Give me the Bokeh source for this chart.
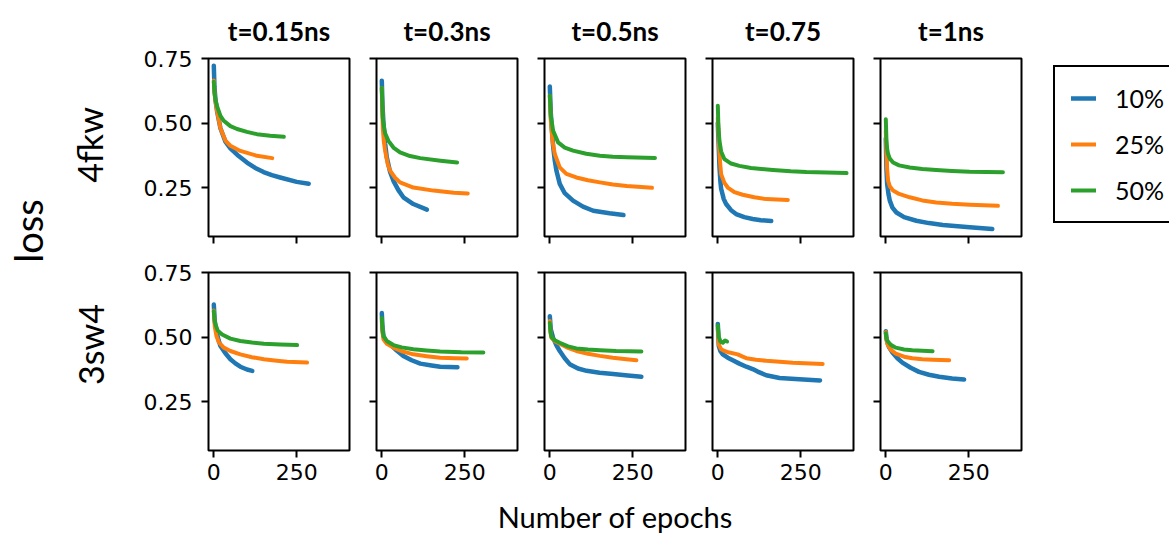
import math
from bokeh.plotting import figure
from bokeh.layouts import row, column
from bokeh.models import FixedTicker, Range1d, Legend, LegendItem, PrintfTickFormatter
from bokeh.embed import file_html
from bokeh.resources import INLINE
from bokeh.core.properties import value

# ---------------- labels / categories ----------------
TIMES = ["t=0.15ns", "t=0.3ns", "t=0.5ns", "t=0.75", "t=1ns"]
PROTEINS = ["4fkw", "3sw4"]
SERIES = ["10%", "25%", "50%"]
COLORS = ["#1f77b4", "#ff7f0e", "#2ca02c"]
X_TICKS = [0, 250]
Y_TICKS = [0.25, 0.5, 0.75]
X_LABEL = "Number of epochs"
Y_LABEL = "loss"

# ---------------- data (epoch, loss) ----------------
# 4fkw, t=0.15ns
fkw_015_10_ep = [0, 2, 5, 10, 20, 35, 50, 75, 100, 125, 150, 175, 200, 250, 286]
fkw_015_10_loss = [0.722, 0.64, 0.59, 0.545, 0.48, 0.428, 0.402, 0.372, 0.347, 0.326, 0.310, 0.298, 0.289, 0.272, 0.265]
fkw_015_25_ep = [0, 2, 5, 10, 20, 35, 50, 80, 130, 176]
fkw_015_25_loss = [0.665, 0.62, 0.585, 0.545, 0.48, 0.432, 0.412, 0.392, 0.373, 0.364]
fkw_015_50_ep = [0, 2, 5, 10, 20, 30, 50, 70, 100, 130, 170, 211]
fkw_015_50_loss = [0.66, 0.62, 0.59, 0.565, 0.528, 0.509, 0.488, 0.477, 0.466, 0.457, 0.451, 0.447]

# 4fkw, t=0.3ns
fkw_03_10_ep = [0, 2, 5, 10, 15, 25, 35, 50, 65, 95, 136]
fkw_03_10_loss = [0.664, 0.57, 0.50, 0.42, 0.367, 0.31, 0.276, 0.24, 0.212, 0.186, 0.164]
fkw_03_25_ep = [0, 3, 6, 10, 18, 25, 40, 55, 95, 156, 217, 259]
fkw_03_25_loss = [0.636, 0.48, 0.43, 0.393, 0.34, 0.315, 0.288, 0.270, 0.250, 0.238, 0.230, 0.227]
fkw_03_50_ep = [0, 3, 5, 10, 20, 35, 55, 85, 116, 177, 227]
fkw_03_50_loss = [0.636, 0.52, 0.496, 0.46, 0.431, 0.405, 0.386, 0.372, 0.364, 0.354, 0.347]

# 4fkw, t=0.5ns
fkw_05_10_ep = [0, 3, 5, 10, 15, 20, 30, 45, 70, 100, 131, 180, 222]
fkw_05_10_loss = [0.642, 0.54, 0.496, 0.41, 0.354, 0.315, 0.264, 0.228, 0.199, 0.176, 0.160, 0.150, 0.143]
fkw_05_25_ep = [0, 3, 8, 15, 30, 50, 80, 115, 151, 190, 232, 308]
fkw_05_25_loss = [0.606, 0.51, 0.431, 0.38, 0.328, 0.303, 0.289, 0.278, 0.270, 0.262, 0.256, 0.249]
fkw_05_50_ep = [0, 3, 10, 25, 45, 70, 110, 151, 190, 232, 317]
fkw_05_50_loss = [0.606, 0.53, 0.470, 0.425, 0.405, 0.393, 0.381, 0.373, 0.369, 0.367, 0.365]

# 4fkw, t=0.75
fkw_075_10_ep = [0, 3, 5, 8, 10, 18, 25, 40, 55, 80, 105, 130, 161]
fkw_075_10_loss = [0.50, 0.40, 0.33, 0.27, 0.245, 0.205, 0.186, 0.162, 0.147, 0.135, 0.128, 0.123, 0.120]
fkw_075_25_ep = [0, 3, 6, 10, 20, 30, 50, 75, 110, 146, 211]
fkw_075_25_loss = [0.52, 0.43, 0.36, 0.302, 0.268, 0.250, 0.232, 0.222, 0.212, 0.205, 0.202]
fkw_075_50_ep = [0, 2, 5, 10, 20, 40, 65, 100, 166, 220, 267, 388]
fkw_075_50_loss = [0.567, 0.48, 0.431, 0.39, 0.360, 0.343, 0.334, 0.326, 0.318, 0.313, 0.310, 0.306]

# 4fkw, t=1ns
fkw_1_10_ep = [0, 2, 4, 8, 12, 20, 32, 55, 92, 130, 172, 253, 321]
fkw_1_10_loss = [0.44, 0.32, 0.264, 0.225, 0.199, 0.172, 0.153, 0.135, 0.121, 0.112, 0.105, 0.096, 0.089]
fkw_1_25_ep = [0, 2, 4, 7, 12, 22, 40, 72, 110, 152, 200, 253, 338]
fkw_1_25_loss = [0.47, 0.38, 0.32, 0.276, 0.255, 0.238, 0.225, 0.212, 0.200, 0.192, 0.187, 0.183, 0.179]
fkw_1_50_ep = [0, 2, 4, 7, 12, 22, 40, 72, 110, 152, 200, 253, 353]
fkw_1_50_loss = [0.515, 0.43, 0.40, 0.380, 0.362, 0.347, 0.336, 0.328, 0.322, 0.318, 0.314, 0.311, 0.309]

# 3sw4, t=0.15ns
sw_015_10_ep = [0, 3, 8, 14, 20, 35, 50, 65, 80, 100, 116]
sw_015_10_loss = [0.626, 0.56, 0.523, 0.49, 0.465, 0.437, 0.414, 0.398, 0.385, 0.374, 0.369]
sw_015_25_ep = [0, 3, 8, 15, 30, 50, 80, 115, 151, 190, 221, 281]
sw_015_25_loss = [0.603, 0.54, 0.504, 0.48, 0.459, 0.446, 0.433, 0.422, 0.414, 0.408, 0.404, 0.401]
sw_015_50_ep = [0, 2, 5, 12, 25, 50, 80, 115, 151, 200, 251]
sw_015_50_loss = [0.60, 0.57, 0.549, 0.525, 0.510, 0.494, 0.485, 0.479, 0.474, 0.471, 0.469]

# 3sw4, t=0.3ns
sw_03_10_ep = [0, 2, 5, 12, 25, 45, 65, 90, 116, 150, 176, 228]
sw_03_10_loss = [0.593, 0.54, 0.504, 0.485, 0.472, 0.448, 0.427, 0.41, 0.397, 0.39, 0.385, 0.383]
sw_03_25_ep = [0, 2, 5, 15, 35, 60, 95, 135, 176, 220, 256]
sw_03_25_loss = [0.562, 0.52, 0.491, 0.474, 0.459, 0.445, 0.433, 0.426, 0.420, 0.418, 0.417]
sw_03_50_ep = [0, 2, 5, 15, 35, 60, 95, 135, 176, 240, 306]
sw_03_50_loss = [0.574, 0.53, 0.504, 0.485, 0.469, 0.460, 0.453, 0.448, 0.444, 0.441, 0.440]

# 3sw4, t=0.5ns
sw_05_10_ep = [0, 3, 10, 20, 30, 45, 60, 85, 111, 150, 191, 235, 276]
sw_05_10_loss = [0.581, 0.53, 0.497, 0.468, 0.446, 0.418, 0.395, 0.378, 0.369, 0.362, 0.357, 0.351, 0.346]
sw_05_25_ep = [0, 2, 5, 15, 30, 55, 80, 115, 151, 190, 231, 261]
sw_05_25_loss = [0.562, 0.52, 0.497, 0.484, 0.474, 0.458, 0.446, 0.435, 0.427, 0.420, 0.414, 0.410]
sw_05_50_ep = [0, 2, 5, 15, 30, 55, 80, 115, 151, 200, 276]
sw_05_50_loss = [0.555, 0.52, 0.50, 0.488, 0.478, 0.464, 0.456, 0.452, 0.449, 0.446, 0.444]

# 3sw4, t=0.75
sw_075_10_ep = [0, 3, 8, 15, 30, 45, 65, 86, 105, 120, 146, 186, 246, 308]
sw_075_10_loss = [0.551, 0.465, 0.445, 0.433, 0.42, 0.410, 0.397, 0.385, 0.376, 0.366, 0.352, 0.341, 0.336, 0.332]
sw_075_25_ep = [0, 3, 10, 20, 35, 60, 75, 86, 115, 146, 186, 226, 316]
sw_075_25_loss = [0.536, 0.47, 0.453, 0.446, 0.440, 0.433, 0.424, 0.418, 0.412, 0.408, 0.404, 0.400, 0.396]
sw_075_50_ep = [0, 3, 8, 15, 22, 28]
sw_075_50_loss = [0.545, 0.50, 0.483, 0.478, 0.487, 0.483]

# 3sw4, t=1ns
sw_1_10_ep = [0, 2, 5, 10, 20, 35, 50, 75, 100, 130, 161, 200, 236]
sw_1_10_loss = [0.523, 0.495, 0.478, 0.46, 0.440, 0.418, 0.401, 0.381, 0.365, 0.354, 0.346, 0.339, 0.335]
sw_1_25_ep = [0, 2, 5, 15, 30, 55, 80, 110, 141, 191]
sw_1_25_loss = [0.52, 0.49, 0.472, 0.45, 0.436, 0.424, 0.418, 0.414, 0.412, 0.410]
sw_1_50_ep = [0, 2, 5, 15, 30, 55, 80, 110, 141]
sw_1_50_loss = [0.515, 0.495, 0.485, 0.47, 0.459, 0.452, 0.449, 0.447, 0.445]

PANELS = [
    [  # 4fkw
        [(fkw_015_10_ep, fkw_015_10_loss), (fkw_015_25_ep, fkw_015_25_loss), (fkw_015_50_ep, fkw_015_50_loss)],
        [(fkw_03_10_ep, fkw_03_10_loss), (fkw_03_25_ep, fkw_03_25_loss), (fkw_03_50_ep, fkw_03_50_loss)],
        [(fkw_05_10_ep, fkw_05_10_loss), (fkw_05_25_ep, fkw_05_25_loss), (fkw_05_50_ep, fkw_05_50_loss)],
        [(fkw_075_10_ep, fkw_075_10_loss), (fkw_075_25_ep, fkw_075_25_loss), (fkw_075_50_ep, fkw_075_50_loss)],
        [(fkw_1_10_ep, fkw_1_10_loss), (fkw_1_25_ep, fkw_1_25_loss), (fkw_1_50_ep, fkw_1_50_loss)],
    ],
    [  # 3sw4
        [(sw_015_10_ep, sw_015_10_loss), (sw_015_25_ep, sw_015_25_loss), (sw_015_50_ep, sw_015_50_loss)],
        [(sw_03_10_ep, sw_03_10_loss), (sw_03_25_ep, sw_03_25_loss), (sw_03_50_ep, sw_03_50_loss)],
        [(sw_05_10_ep, sw_05_10_loss), (sw_05_25_ep, sw_05_25_loss), (sw_05_50_ep, sw_05_50_loss)],
        [(sw_075_10_ep, sw_075_10_loss), (sw_075_25_ep, sw_075_25_loss), (sw_075_50_ep, sw_075_50_loss)],
        [(sw_1_10_ep, sw_1_10_loss), (sw_1_25_ep, sw_1_25_loss), (sw_1_50_ep, sw_1_50_loss)],
    ],
]

# ---------------- layout constants ----------------
W, H = 1169, 538
FRAME_W, FRAME_H = 141, 178
X_RANGE = (-16, 409)
Y_RANGE = (0.06, 0.7505)
LEFT_W = 110
BOTTOM_H = 43
LABEL_FONT = "Lato"
TICK_FONT = "DejaVu Sans"


def hide_labels(ax):
    ax.major_label_text_font_size = "0px"
    ax.major_label_text_color = None


def make_panel(r, c):
    left = (208 - LEFT_W) if c == 0 else 14
    right = 13 + (135 if (r == 0 and c == 4) else 0)
    top = 58 if r == 0 else 18
    bottom = 18 if r == 0 else 45
    p = figure(frame_width=FRAME_W, frame_height=FRAME_H,
               min_border_left=left, min_border_right=right,
               min_border_top=top, min_border_bottom=bottom,
               x_range=Range1d(*X_RANGE), y_range=Range1d(*Y_RANGE),
               output_backend="svg", toolbar_location=None,
               title=TIMES[c] if r == 0 else None)
    p.grid.visible = False
    p.outline_line_color = "black"
    p.outline_line_width = 2
    p.outline_line_alpha = 1
    p.background_fill_color = "white"
    p.border_fill_color = "white"
    p.xaxis.ticker = FixedTicker(ticks=X_TICKS)
    p.yaxis.ticker = FixedTicker(ticks=Y_TICKS)
    p.yaxis.formatter = PrintfTickFormatter(format="%.2f")
    for ax in (p.xaxis[0], p.yaxis[0]):
        ax.axis_line_color = None
        ax.major_tick_out = 7
        ax.major_tick_in = 0
        ax.minor_tick_out = 0
        ax.minor_tick_in = 0
        ax.major_tick_line_width = 2
        ax.major_tick_line_color = "black"
        ax.major_label_text_font = TICK_FONT
        ax.major_label_text_font_size = "22px"
        ax.major_label_text_color = "black"
    p.xaxis.major_label_standoff = 6
    p.yaxis.major_label_standoff = 9
    if r == 0:
        hide_labels(p.xaxis[0])
        p.title.text_font = LABEL_FONT
        p.title.text_font_size = "26px"
        p.title.text_font_style = "bold"
        p.title.text_color = "black"
        p.title.align = "center"
        p.title.offset = -4
        p.title.standoff = 23
    if c > 0:
        hide_labels(p.yaxis[0])

    renderers = []
    for k, (ep, loss) in enumerate(PANELS[r][c]):
        rr = p.line(ep, loss, line_color=COLORS[k], line_width=4.5 if k == 0 else 4,
                    line_join="round", line_cap="round")
        renderers.append(rr)

    if r == 0 and c == 4:
        legend = Legend(items=[LegendItem(label=SERIES[k], renderers=[renderers[k]]) for k in range(3)],
                        location=(32, 13))
        legend.border_line_color = "black"
        legend.border_line_width = 2
        legend.border_line_alpha = 1
        legend.background_fill_color = "white"
        legend.background_fill_alpha = 1
        legend.label_text_font = LABEL_FONT
        legend.label_text_font_size = "25px"
        legend.label_text_color = "black"
        legend.glyph_width = 25
        legend.glyph_height = 20
        legend.label_standoff = 19
        legend.label_width = 62
        legend.spacing = 16
        legend.padding = 16
        legend.margin = 0
        p.add_layout(legend, "right")
    return p


grid_rows = []
for r in range(2):
    grid_rows.append(row([make_panel(r, c) for c in range(5)], spacing=0))

# left strip: shared y label and the row labels
left = figure(width=LEFT_W, height=H, x_range=Range1d(0, LEFT_W), y_range=Range1d(0, H),
              x_axis_type=None, y_axis_type=None, min_border=0,
              output_backend="svg", toolbar_location=None)
left.grid.visible = False
left.outline_line_color = None
left.text(x=[27], y=[H - 230.5], text=[Y_LABEL], angle=math.pi / 2,
          text_align="center", text_baseline="middle",
          text_font=value(LABEL_FONT), text_font_size="38px", text_color="black")
left.text(x=[88.5, 90], y=[H - 144.5, H - 344], text=PROTEINS, angle=math.pi / 2,
          text_align="center", text_baseline="middle",
          text_font=value(LABEL_FONT), text_font_size="34px", text_color="black")

# bottom strip: shared x label
bottom = figure(width=W - LEFT_W, height=BOTTOM_H, x_range=Range1d(LEFT_W, W), y_range=Range1d(0, BOTTOM_H),
                x_axis_type=None, y_axis_type=None, min_border=0,
                output_backend="svg", toolbar_location=None)
bottom.grid.visible = False
bottom.outline_line_color = None
bottom.text(x=[615], y=[22], text=[X_LABEL],
            text_align="center", text_baseline="alphabetic",
            text_font=value(LABEL_FONT), text_font_size="29px", text_color="black")

root = row([left, column(grid_rows + [bottom], spacing=0)], spacing=0)

open("out.html", "w").write(file_html(root, INLINE))
